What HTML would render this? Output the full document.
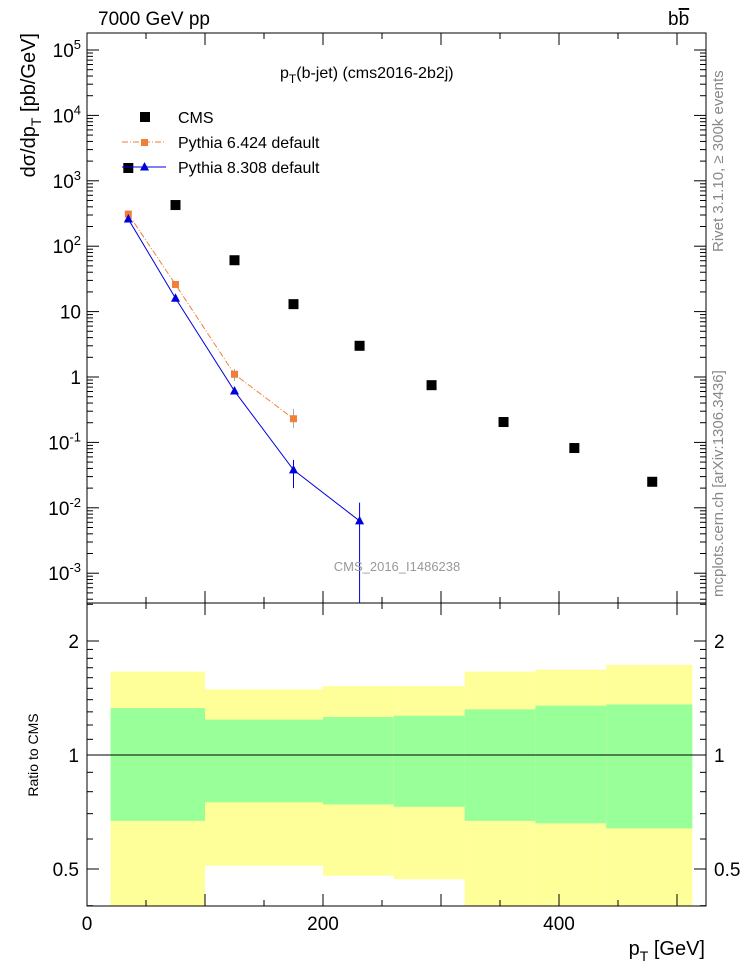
<!DOCTYPE html>
<html><head><meta charset="utf-8"><style>
body{margin:0;background:#fff}
svg{display:block;font-family:"Liberation Sans",sans-serif}
</style></head><body>
<svg id="c" width="746" height="972"></svg>
<script>
const xCenters=[35,75,125,175,231,292,353,413,479];
const cmsVals=[1570,426,61,13,3.0,0.75,0.205,0.082,0.025];
const py6X=[35,75,125,175];
const py6Vals=[310,26,1.1,0.23];
const py6ErrLo=[0.23,0.23,0.23,0.065];
const py6ErrHi=[0.23,0.23,0.23,0.095];
const py8X=[35,75,125,175,231];
const py8Vals=[260,16,0.61,0.038,0.0063];
const py8ErrLo=[0,0,0,0.018,0.0063];
const py8ErrHi=[0,0,0,0.016,0.0057];
const binEdges=[20,100,200,260,320,380,440,513];
const yellowHi=[1.66,1.49,1.52,1.52,1.66,1.68,1.73];
const greenHi=[1.33,1.24,1.26,1.27,1.32,1.35,1.36];
const greenLo=[0.67,0.75,0.74,0.73,0.67,0.66,0.64];
const yellowLo=[0.35,0.51,0.48,0.47,0.35,0.35,0.35];

const NS="http://www.w3.org/2000/svg",svg=document.getElementById('c');
function el(t,a,txt,p){const e=document.createElementNS(NS,t);for(const k in a)e.setAttribute(k,a[k]);if(txt!==undefined)e.textContent=txt;(p||svg).appendChild(e);return e;}
const L=87,R=706,T=33,B=603,RT=603,RB=906;
const X=v=>L+(v)*1.18;
const Y=v=>377-Math.log10(v)*65.4;
const RY=v=>755-Math.log2(v)*114;

for(let i=0;i<yellowHi.length;i++){
  const x0=X(binEdges[i]),x1=X(binEdges[i+1]);
  let e=el('rect',{x:x0,y:RY(yellowHi[i]),width:x1-x0,height:Math.min(RB,RY(yellowLo[i]))-RY(yellowHi[i]),fill:'#ffff99'});
  
  e=el('rect',{x:x0,y:RY(greenHi[i]),width:x1-x0,height:RY(greenLo[i])-RY(greenHi[i]),fill:'#99ff99'});
  
}
el('line',{x1:L,x2:R,y1:RY(1),y2:RY(1),stroke:'#000'});
el('rect',{x:L,y:T,width:R-L,height:B-T,fill:'none',stroke:'#000'});
el('rect',{x:L,y:RT,width:R-L,height:RB-RT,fill:'none',stroke:'#000'});
for(let v=0;v<=520;v+=50){const big=v%100==0;const l=big?12:6;const x=X(v);if(x>R)break;
 [[T,1],[B,-1],[RT,1],[RB,-1]].forEach(([y,d])=>el('line',{x1:x,x2:x,y1:y,y2:y+d*l,stroke:'#000'}));}
[0,200,400].forEach(v=>{const e=el('text',{x:X(v),y:930,'font-size':19,'text-anchor':'middle'},String(v));});
const yl=['10<tspan dy="-8" font-size="13">-3</tspan>','10<tspan dy="-8" font-size="13">-2</tspan>','10<tspan dy="-8" font-size="13">-1</tspan>','1','10','10<tspan dy="-8" font-size="13">2</tspan>','10<tspan dy="-8" font-size="13">3</tspan>','10<tspan dy="-8" font-size="13">4</tspan>','10<tspan dy="-8" font-size="13">5</tspan>'];
for(let p=-4;p<=5;p++){for(let m=1;m<10;m++){const v=m*Math.pow(10,p);const y=Y(v);if(y<T||y>B)continue;const l=m==1?12:6;
 el('line',{x1:L,x2:L+l,y1:y,y2:y,stroke:'#000'});el('line',{x1:R,x2:R-l,y1:y,y2:y,stroke:'#000'});}}
for(let p=-3;p<=5;p++){const t=el('text',{x:L-6,y:Y(Math.pow(10,p))+7,'font-size':19,'text-anchor':'end'});t.innerHTML=yl[p+3];}
[0.4,0.5,0.6,0.7,0.8,0.9,1,1.1,1.2,1.3,1.4,1.5,1.6,1.7,1.8,1.9,2,2.5].forEach(v=>{const y=RY(v);if(y<RT||y>RB)return;const big=(v==0.5||v==1||v==2);const l=big?12:6;
 el('line',{x1:L,x2:L+l,y1:y,y2:y,stroke:'#000'});el('line',{x1:R,x2:R-l,y1:y,y2:y,stroke:'#000'});});
[[2,'2'],[1,'1'],[0.5,'0.5']].forEach(([v,s])=>{el('text',{x:L-8,y:RY(v)+7,'font-size':19,'text-anchor':'end'},s);el('text',{x:R+8,y:RY(v)+7,'font-size':19},s);});
const clipY=y=>Math.min(B,y);
let pts=py6X.map((x,i)=>X(x)+','+Y(py6Vals[i])).join(' ');
el('polyline',{points:pts,fill:'none',stroke:'#f07f3a','stroke-dasharray':'6,2,1,2'});
py6X.forEach((x,i)=>{el('line',{x1:X(x),x2:X(x),y1:Y(py6Vals[i]+py6ErrHi[i]),y2:clipY(Y(Math.max(1e-6,py6Vals[i]-py6ErrLo[i]))),stroke:'#aaa'});
 const r=el('rect',{x:X(x)-3.5,y:Y(py6Vals[i])-3.5,width:7,height:7,fill:'#f07f3a'});});
pts=py8X.map((x,i)=>X(x)+','+Y(py8Vals[i])).join(' ');
el('polyline',{points:pts,fill:'none',stroke:'#0000dd'});
py8X.forEach((x,i)=>{if(py8ErrHi[i]>0)el('line',{x1:X(x),x2:X(x),y1:Y(py8Vals[i]+py8ErrHi[i]),y2:clipY(py8Vals[i]-py8ErrLo[i]>0?Y(py8Vals[i]-py8ErrLo[i]):B),stroke:'#0000dd'});
 const cx=X(x),cy=Y(py8Vals[i]);const t=el('polygon',{points:`${cx},${cy-5} ${cx-4.5},${cy+3.5} ${cx+4.5},${cy+3.5}`,fill:'#0000dd'});});
xCenters.forEach((x,i)=>{const r=el('rect',{x:X(x)-5,y:Y(cmsVals[i])-5,width:10,height:10,fill:'#000'});});
el('rect',{x:140,y:112,width:10,height:10,fill:'#000'});
el('text',{x:178,y:123,'font-size':16},'CMS');
el('line',{x1:122,x2:166,y1:142,y2:142,stroke:'#f07f3a','stroke-dasharray':'6,2,1,2'});
el('rect',{x:141,y:139,width:7,height:7,fill:'#f07f3a'});
el('text',{x:178,y:148,'font-size':16},'Pythia 6.424 default');
el('line',{x1:122,x2:166,y1:167,y2:167,stroke:'#0000dd'});
el('polygon',{points:'144.5,162 140,170.5 149,170.5',fill:'#0000dd'});
el('text',{x:178,y:173,'font-size':16},'Pythia 8.308 default');
el('text',{x:98,y:25,'font-size':19},'7000 GeV pp');
let t=el('text',{x:668,y:25,'font-size':19});t.innerHTML='b<tspan text-decoration="overline">b</tspan>';
t=el('text',{x:280,y:78,'font-size':16});t.innerHTML='p<tspan dy="5" font-size="12">T</tspan><tspan dy="-5">(b-jet) (cms2016-2b2j)</tspan>';
el('text',{x:397,y:571,'font-size':13,fill:'#999','text-anchor':'middle'},'CMS_2016_I1486238');
t=el('text',{x:705,y:955,'font-size':20,'text-anchor':'end'});t.innerHTML='p<tspan dy="6" font-size="14">T</tspan><tspan dy="-6"> [GeV]</tspan>';
t=el('text',{transform:'translate(35,33) rotate(-90)','font-size':20,'text-anchor':'end'});t.innerHTML='dσ/dp<tspan dy="6" font-size="14">T</tspan><tspan dy="-6"> [pb/GeV]</tspan>';
el('text',{transform:'translate(38,755) rotate(-90)','font-size':14,'text-anchor':'middle'},'Ratio to CMS');
el('text',{transform:'translate(723,252) rotate(-90)','font-size':15,fill:'#888'},'Rivet 3.1.10, ≥ 300k events');
el('text',{transform:'translate(723,597) rotate(-90)','font-size':15,fill:'#888'},'mcplots.cern.ch [arXiv:1306.3436]');
</script></body></html>
